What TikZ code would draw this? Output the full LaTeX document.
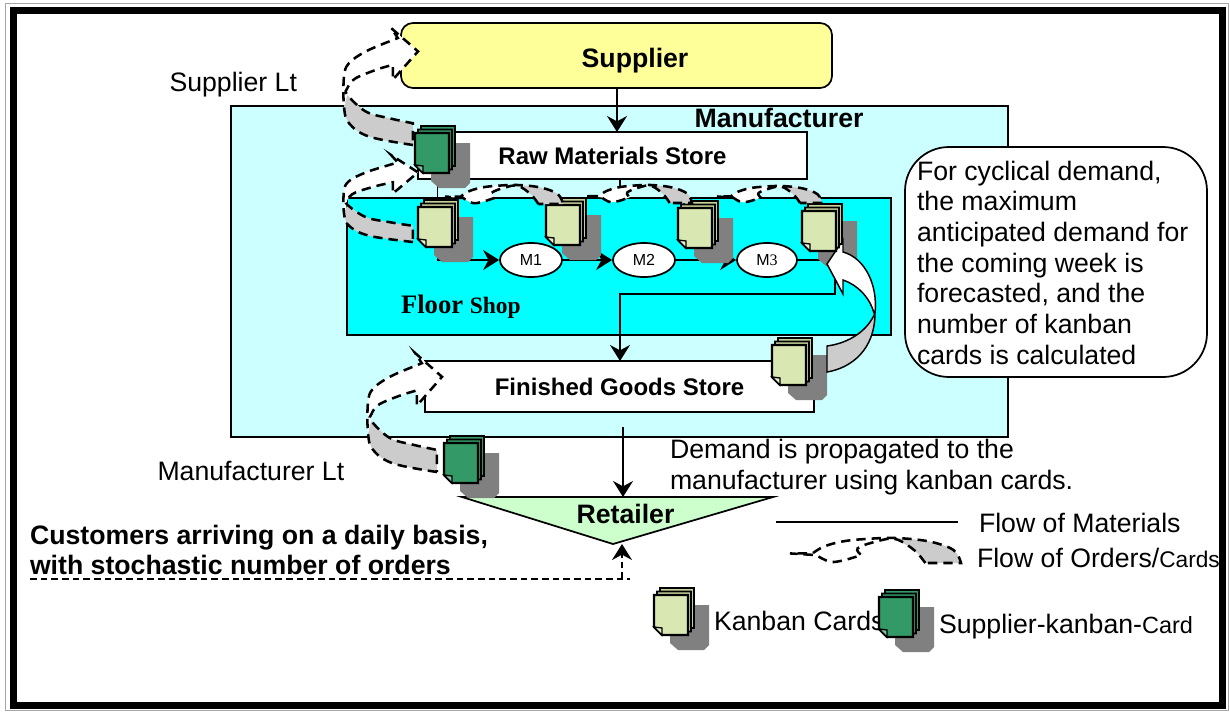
\documentclass[tikz,border=0pt]{standalone}
\usepackage{fontspec}
\setmainfont{Liberation Sans}
\newfontfamily\timesfam{Liberation Serif}
\usetikzlibrary{arrows.meta,calc,shapes.geometric}
\definecolor{mfgfill}{HTML}{CCFFFF}
\definecolor{supfill}{HTML}{FFFF99}
\definecolor{shopfill}{HTML}{00FFFF}
\definecolor{retfill}{HTML}{CCFFCC}
\definecolor{cardpale}{HTML}{D9E8B3}
\definecolor{cardback}{HTML}{C6D29A}
\definecolor{cardgreen}{HTML}{339966}
\definecolor{shadowgray}{HTML}{808080}
\definecolor{bandgray}{HTML}{CCCCCC}
\tikzset{
  pxline/.style={line width=1.3pt,draw=black},
  solidflow/.style={pxline,-{Stealth[length=12pt,width=15pt,inset=4pt]}},
  dashflow/.style={line width=1.9pt,draw=black,dash pattern=on 7pt off 4.5pt},
  labeltext/.style={inner sep=0pt,outer sep=0pt,anchor=base west,font=\fontsize{20}{23}\selectfont},
  boldtext/.style={inner sep=0pt,outer sep=0pt,anchor=base,font=\fontsize{18}{22}\selectfont\bfseries},
  machine/.style={ellipse,draw=black,line width=1.3pt,fill=white,inner sep=0pt,font=\fontsize{12}{14}\selectfont},
}
% named rectangle from pixel corners
\newcommand{\pxbox}[6]{\node[rectangle,draw=black,line width=1.3pt,outer sep=0pt,inner sep=0pt,#6,
  minimum width={(#4-#2)*0.75pt},minimum height={(#5-#3)*0.75pt}] (#1) at ({(#2+#4)/2},{(#3+#5)/2}) {};}
% card stack: name, x, y of the front sheet, colour, back colour
\newcommand{\cardshadow}[2]{\fill[shadowgray,shift={(#1,#2)}] (16,10)--(55,10)--(55,50)--(50,55)--(24,55)--(16,48)--cycle;}
\newcommand{\cardstack}[5]{\begin{scope}[shift={(#2,#3)}]
  \coordinate (#1) at (17,20);
  \filldraw[fill=#5,draw=black,line width=1.3pt] (6,-7)--(40,-7)--(40,33)--(14,33)--(6,26)--cycle;
  \filldraw[fill=#5,draw=black,line width=1.3pt] (3,-3.5)--(37,-3.5)--(37,36.5)--(11,36.5)--(3,29.5)--cycle;
  \filldraw[fill=#4,draw=black,line width=1.8pt] (0,0)--(34,0)--(34,40)--(8,40)--(0,32)--cycle;
  \filldraw[fill=#4!60!white,draw=black,line width=1pt] (0,32)--(8,33)--(8,40)--cycle;
\end{scope}}
% big dashed U-turn, head to the right
\newcommand{\vflow}[4]{\begin{scope}[shift={(#1,#2)},xscale={#3/220},yscale={#4/350}]
  \fill[bandgray] plot[smooth,tension=.6] coordinates {(0,235)(15,285)(75,325)(205,350)} -- plot[smooth,tension=.6] coordinates {(205,285)(135,270)(65,250)(10,200)} -- cycle;
  \fill[white] plot[smooth,tension=.6] coordinates {(0,145)(15,105)(65,70)(135,40)} -- (160,30)--(140,0)--(220,70)--(145,155)--(145,110) -- plot[smooth,tension=.6] coordinates {(110,120)(35,150)(10,180)(8,200)} -- (0,235) -- cycle;
  \draw[dashflow] plot[smooth,tension=.6] coordinates {(205,350)(75,325)(15,285)(0,235)(0,145)(15,105)(65,70)(135,40)} -- (160,30)--(140,0)--(220,70)--(145,155)--(145,110) -- plot[smooth,tension=.6] coordinates {(110,120)(35,150)(10,180)(10,200)(65,250)(135,270)(205,285)} -- cycle;
\end{scope}}
% flat dashed arc, head to the left
\newcommand{\hflow}[4]{\begin{scope}[shift={(#1,#2)},xscale={#3/455},yscale={#4/73}]
  \fill[bandgray] plot[smooth,tension=.6] coordinates {(455,73)(435,35)(370,10)(280,0)} -- plot[smooth,tension=.6] coordinates {(280,3)(330,35)(360,73)} -- cycle;
  \fill[white] plot[smooth,tension=.6] coordinates {(280,0)(200,3)(140,10)(90,25)(60,45)} -- (0,45) -- plot[smooth,tension=.6] coordinates {(70,50)(110,70)(160,60)(190,50)} -- plot[smooth,tension=.6] coordinates {(180,30)(230,10)(280,3)} -- cycle;
  \draw[dashflow] plot[smooth,tension=.6] coordinates {(360,73)(330,35)(280,3)(230,10)(180,30)(190,50)} -- plot[smooth,tension=.6] coordinates {(160,60)(110,70)(70,50)} -- (0,45) -- plot[smooth,tension=.6] coordinates {(60,45)(90,25)(140,10)(200,3)(280,0)(370,10)(435,35)(455,73)} -- cycle;
\end{scope}}
\begin{document}
\begin{tikzpicture}[x=0.75pt,y=-0.75pt]
\useasboundingbox (0,0) rectangle (1230,711);
\fill[white] (0,0) rectangle (1230,711);

% ---- containers
\pxbox{mfg}{231}{106}{1008}{437}{fill=mfgfill}
\node[rectangle,draw=black,line width=1.3pt,fill=supfill,rounded corners=9pt,inner sep=0pt,outer sep=0pt,
  minimum width={431*0.75pt},minimum height={65*0.75pt}] (supplier) at (616.5,55.5) {};
\pxbox{raw}{418}{132}{807}{179}{fill=white}
\pxbox{shop}{347}{198}{891}{335}{fill=shopfill}
\pxbox{fgs}{425}{361}{814}{412}{fill=white}
\coordinate (retL) at (462,497);
\coordinate (retR) at (773,497);
\coordinate (retA) at (613,544);
\filldraw[fill=retfill,draw=black,line width=1.3pt] (retL)--(retR)--(retA)--cycle;

% ---- machines
\node[machine,minimum width={62*0.75pt},minimum height={34*0.75pt}] (m1) at (531,260) {M1\hspace{6pt}};
\node[machine,minimum width={62*0.75pt},minimum height={34*0.75pt}] (m2) at (644,260) {M2};
\node[machine,minimum width={60*0.75pt},minimum height={34*0.75pt}] (m3) at (767,260) {M{\timesfam 3}};

% ---- material connectors
\coordinate (xa) at (617,0);
\coordinate (xb) at (437.5,0);
\coordinate (xc) at (620,0);
\coordinate (xd) at (835,294);
\coordinate (xe) at (623,427);
\coordinate (xf) at (622,0);
\coordinate (rawstub) at (620,187);
\draw[solidflow] (xa |- supplier.south) -- (xa |- raw.north);
\draw[solidflow] (xb |- raw.south) -- (xb |- m1.west) -- (m1.west);
\draw[solidflow] (m1.east) -- (m2.west);
\draw[solidflow] (m2.east) -- (m3.west);
\draw[pxline] (xc |- raw.south) -- (rawstub);
\draw[solidflow] (m3.east) -- (xd |- m3.east) -- (xd) -- (xc |- xd) -- (xc |- fgs.north);
\draw[solidflow] (xe) -- (xe |- retL);
\coordinate (custL) at (30,579);
\coordinate (custR) at (630,579);
\draw[line width=1.2pt,dash pattern=on 5pt off 3pt] (custL) -- (custR);
\draw[line width=1.2pt,dash pattern=on 5pt off 3pt,-{Stealth[length=12pt,width=15pt,inset=4pt]}] (xf |- custL) -- (622,544);

% ---- shadows (they lie over the connectors)
\cardshadow{415}{133}
\cardshadow{418}{207}
\cardshadow{546}{205}
\cardshadow{678}{208}
\cardshadow{802}{211}
\cardshadow{772}{345}
\cardshadow{444}{443}
\cardshadow{654}{595}
\cardshadow{879}{597}

% ---- white curved arrow, finished goods back to floor shop
\filldraw[fill=bandgray,draw=black,line width=1.1pt] (827,372) .. controls (851,368) and (875,350) .. (875,313) .. controls (868,330) and (850,343) .. (827,346) -- cycle;
\filldraw[fill=white,draw=black,line width=1.1pt] (875,313) .. controls (878,285) and (865,258) .. (843,252) -- (843,240) -- (827,264) -- (843,294) -- (843,280) .. controls (858,285) and (870,298) .. (874,313) -- cycle;

% ---- big dashed flows
\vflow{344}{28}{74}{117}
\vflow{344}{155}{74}{87}
\vflow{368}{353}{74}{119}

% ---- card stacks
\cardstack{cardS}{415}{133}{cardgreen}{cardgreen}
\cardstack{cardA}{418}{207}{cardpale}{cardback}
\cardstack{cardB}{546}{205}{cardpale}{cardback}
\cardstack{cardC}{678}{208}{cardpale}{cardback}
\cardstack{cardD}{802}{211}{cardpale}{cardback}
\cardstack{cardE}{772}{345}{cardpale}{cardback}
\cardstack{cardM}{444}{443}{cardgreen}{cardgreen}

% ---- flat dashed flows
\hflow{445}{185}{118}{19}
\hflow{585}{185}{107}{18}
\hflow{717}{186}{105}{17}

% ---- legend
\coordinate (legA) at (776,522);
\coordinate (legB) at (958,522);
\draw[pxline] (legA) -- (legB);
\hflow{790}{538}{171}{25}
\node[labeltext] (kanbanlab) at (714,630) {Kanban Cards};
\cardstack{legK}{654}{595}{cardpale}{cardback}
\cardstack{legS}{879}{597}{cardgreen}{cardgreen}
\node[labeltext] (supkanlab) at (939,633) {Supplier-kanban-{\fontsize{17.6}{20}\selectfont Card}};
\node[labeltext] (flowmat) at (979,532) {Flow of Materials};
\node[labeltext] (floword) at (977,567) {Flow of Orders/{\fontsize{17}{20}\selectfont Cards}};

% ---- labels
\node[boldtext,font=\fontsize{20}{22}\selectfont\bfseries] (suplab) at (635,67) {Supplier};
\node[boldtext,font=\fontsize{20}{22}\selectfont\bfseries] (mfglab) at (779,127) {Manufacturer};
\node[boldtext] (rawlab) at (612.5,164) {Raw Materials Store};
\node[boldtext] (fgslab) at (619.5,395) {Finished Goods Store};
\node[boldtext,font=\fontsize{20}{22}\selectfont\bfseries] (retlab) at (625.5,523) {Retailer};
\node[labeltext] (supLt) at (169.5,91) {Supplier Lt};
\node[labeltext] (mfgLt) at (157.5,480) {Manufacturer Lt};
\node[labeltext,anchor=base west] (shoplab) at (401,313) {\timesfam\bfseries Floor {\fontsize{17.6}{20}\selectfont Shop}};
\node[inner sep=0pt,outer sep=0pt,anchor=north west,align=left,font=\fontsize{20}{23}\selectfont] (demand) at (670,439) {Demand is propagated to the\\manufacturer using kanban cards.};
\node[inner sep=0pt,outer sep=0pt,anchor=north west,align=left,font=\fontsize{20}{22.5}\selectfont\bfseries] (cust) at (30,525) {Customers arriving on a daily basis,\\with stochastic number of orders};

% ---- callout
\node[rectangle,draw=black,line width=1.3pt,fill=white,rounded corners=33pt,inner sep=0pt,outer sep=0pt,
  minimum width={302*0.75pt},minimum height={230*0.75pt}] (callout) at (1056,262) {};
\node[inner sep=0pt,outer sep=0pt,anchor=north west,align=left,font=\fontsize{20}{23}\selectfont] (calltext) at (917,161) {For cyclical demand,\\the maximum\\anticipated demand for\\the coming week is\\forecasted, and the\\number of kanban\\cards is calculated};

% ---- frame
\draw[shadowgray!70,line width=1pt] (5.5,3.5) rectangle (1228.5,710.5);
\draw[black,line width=5.2pt] (13.2,10.5) rectangle (1222.5,705.5);
\end{tikzpicture}
\end{document}
